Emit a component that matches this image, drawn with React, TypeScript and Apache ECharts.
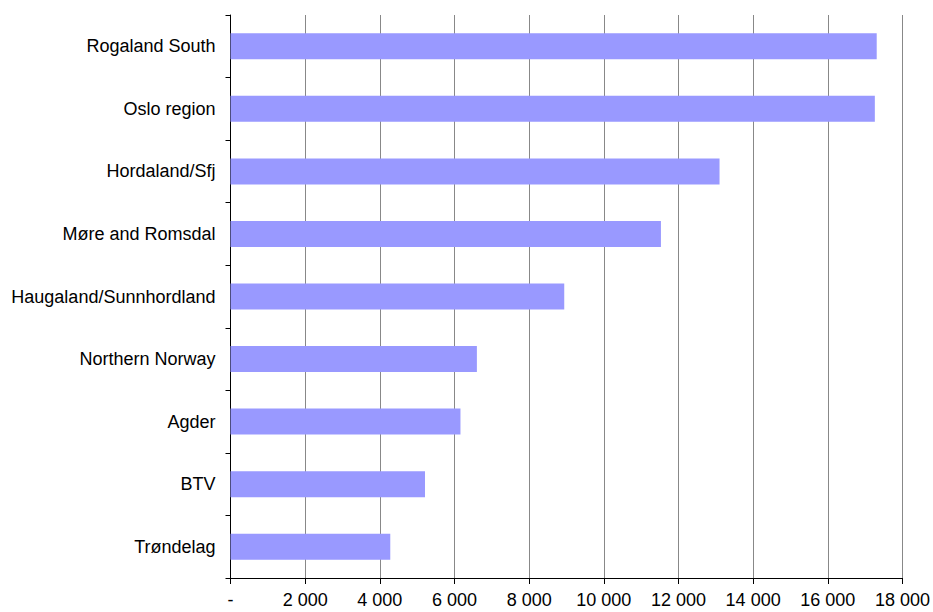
import React, { useEffect, useRef } from "react";
import * as echarts from "echarts";

const regions = [
  "Rogaland South",
  "Oslo region",
  "Hordaland/Sfj",
  "Møre and Romsdal",
  "Haugaland/Sunnhordland",
  "Northern Norway",
  "Agder",
  "BTV",
  "Trøndelag",
];
const values = [17310, 17260, 13100, 11530, 8940, 6600, 6160, 5210, 4280];
const xTicks = [0, 2000, 4000, 6000, 8000, 10000, 12000, 14000, 16000, 18000];

const fmt = (v: number) =>
  v === 0 ? "-" : String(v).replace(/\B(?=(\d{3})+(?!\d))/g, " ");

export default function App() {
  const ref = useRef<HTMLDivElement>(null);
  useEffect(() => {
    if (!ref.current) return;
    const chart = echarts.init(ref.current, undefined, { renderer: "svg" });
    const font = "'Liberation Sans', Arial, sans-serif";
    chart.setOption({
      animation: false,
      grid: { left: 230.5, right: 27.5, top: 15, bottom: 34, containLabel: false },
      xAxis: {
        type: "value",
        min: xTicks[0],
        max: xTicks[xTicks.length - 1],
        interval: 2000,
        axisLine: { show: true, lineStyle: { color: "#000", width: 1 } },
        axisTick: { show: true, length: 6, lineStyle: { color: "#000" } },
        axisLabel: {
          formatter: (v: number) => fmt(v),
          color: "#000",
          fontFamily: font,
          fontSize: 18,
          margin: 13,
          hideOverlap: false,
        },
        splitLine: { show: true, lineStyle: { color: "#888", width: 1 } },
      },
      yAxis: {
        type: "category",
        data: regions,
        inverse: true,
        axisLine: { show: true, lineStyle: { color: "#000", width: 1 } },
        axisTick: { show: true, length: 5, inside: false, lineStyle: { color: "#000" } },
        axisLabel: {
          color: "#000",
          fontFamily: font,
          fontSize: 18,
          margin: 15,
          interval: 0,
        },
        splitLine: { show: false },
      },
      series: [
        {
          type: "bar",
          data: values,
          barWidth: 26,
          itemStyle: { color: "#9999FF" },
        },
      ],
    });
    return () => chart.dispose();
  }, []);
  return <div ref={ref} style={{ width: 933, height: 612, position: "absolute", left: 0, top: 0 }} />;
}
